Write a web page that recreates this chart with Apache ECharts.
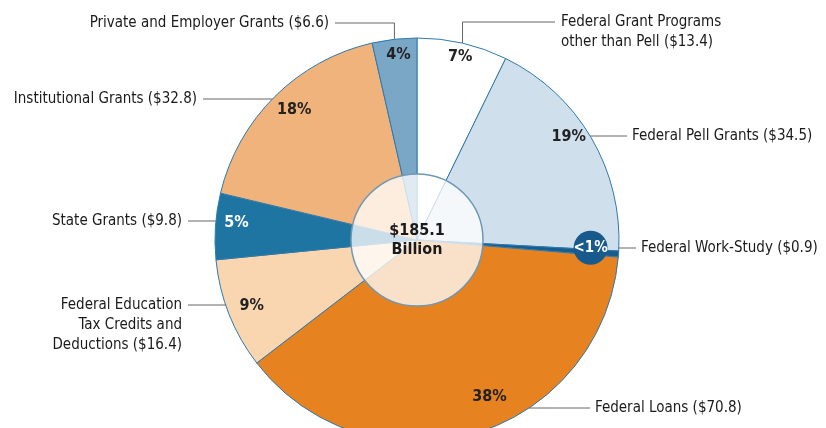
<!DOCTYPE html>
<html><head><meta charset="utf-8">
<script src="https://cdn.jsdelivr.net/npm/echarts@6/dist/echarts.min.js"></script>
<style>html,body{margin:0;padding:0;background:#fff}#c{width:826px;height:428px}</style>
</head><body><div id="c"></div>
<script>
// ---- data ----
const categories = [
  'Federal Grant Programs\nother than Pell',
  'Federal Pell Grants',
  'Federal Work-Study',
  'Federal Loans',
  'Federal Education\nTax Credits and\nDeductions',
  'State Grants',
  'Institutional Grants',
  'Private and Employer Grants'
];
const amounts = [13.4, 34.5, 0.9, 70.8, 16.4, 9.8, 32.8, 6.6];
const percentLabels = ['7%', '19%', '<1%', '38%', '9%', '5%', '18%', '4%'];
const totalLabel = ['$185.1', 'Billion'];

// ---- style ----
const colors = ['#ffffff', '#cfdfec', '#175e8f', '#e6821f', '#f9d5b0', '#1e75a2', '#f0b37b', '#7ba7c7'];
const pctColors = ['#222', '#222', '#fff', '#222', '#222', '#fff', '#222', '#222'];
const pctOffsets = [[2,-5],[-6,-10],[-9,-5],[21,-19],[5,-1],[2,-5],[6,0],[2,-3]];
const FONT = '"DejaVu Sans Condensed", "Liberation Sans Narrow", sans-serif';
const CX = 417, CY = 240, R = 202;
const leaders = [
  {up: 22, endX: 555, textX: 561, align: 'left', top: true},
  {y: 136, endX: 627, textX: 632, align: 'left'},
  {y: 248, endX: 636, textX: 641, align: 'left'},
  {y: 408, endX: 590, textX: 595, align: 'left'},
  {y: 305, endX: 188, textX: 182, align: 'right', top: true},
  {y: 221, endX: 188, textX: 182, align: 'right'},
  {y: 99,  endX: 203, textX: 197, align: 'right'},
  {up: 23, endX: 335, textX: 329, align: 'right'}
];
const LH = 20;

const mainData = categories.map((c, i) => ({
  name: c, value: amounts[i], itemStyle: {color: colors[i]}
}));
const pctData = categories.map((c, i) => {
  const d = {name: c, value: amounts[i], label: {color: pctColors[i]}};
  if (i === 2) {
    Object.assign(d.label, {backgroundColor: '#175a8b', borderRadius: 17, width: 34, height: 34,
      lineHeight: 34, align: 'center', fontSize: 15, overflow: 'none'});
  }
  return d;
});

const chart = echarts.init(document.getElementById('c'), null, {renderer: 'canvas'});
chart.setOption({
  backgroundColor: '#ffffff',
  animation: false,
  series: [
    {
      type: 'pie', z: 2,
      center: [CX, CY], radius: [0, R],
      startAngle: 90, clockwise: true,
      avoidLabelOverlap: false,
      data: mainData,
      itemStyle: {borderColor: '#2f7aad', borderWidth: 1},
      label: {
        show: true, position: 'outside',
        fontFamily: FONT, fontSize: 15, color: '#1a1a1a', lineHeight: LH,
        formatter: p => categories[p.dataIndex] + ' ($' + amounts[p.dataIndex].toFixed(1) + ')'
      },
      labelLine: {show: true, lineStyle: {color: '#666', width: 1}},
      labelLayout: function (p) {
        const L = leaders[p.dataIndex];
        let pts, ly;
        if (L.up != null) {
          const s = p.labelLinePoints[0];
          pts = [[s[0], s[1]], [s[0], L.up], [L.endX, L.up]];
          ly = L.up;
        } else {
          const dy = L.y - CY;
          const dx = Math.sqrt(R * R - dy * dy);
          const sx = L.endX > CX ? CX + dx : CX - dx;
          pts = [[sx, L.y], [(sx + L.endX) / 2, L.y], [L.endX, L.y]];
          ly = L.y;
        }
        return {
          x: L.textX,
          y: L.top ? ly - LH / 2 : ly,
          align: L.align,
          verticalAlign: L.top ? 'top' : 'middle',
          labelLinePoints: pts
        };
      }
    },
    {
      type: 'pie', z: 4, silent: true,
      center: [CX, CY], radius: [0, 66],
      data: [{value: 1, name: 'total'}],
      itemStyle: {color: 'rgba(255,255,255,0.76)', borderColor: '#6f98b6', borderWidth: 1.5},
      label: {
        show: true, position: 'center',
        formatter: totalLabel.join('\n'),
        fontFamily: FONT, fontWeight: 'bold', fontSize: 16, lineHeight: 19, color: '#1a1a1a'
      },
      labelLine: {show: false}
    },
    {
      type: 'pie', z: 6, silent: true,
      center: [CX, CY], radius: [150, 210],
      startAngle: 90, clockwise: true,
      avoidLabelOverlap: false,
      data: pctData,
      itemStyle: {color: 'rgba(0,0,0,0)', borderWidth: 0},
      label: {
        show: true, position: 'inside',
        fontFamily: FONT, fontWeight: 'bold', fontSize: 16,
        formatter: p => percentLabels[p.dataIndex]
      },
      labelLine: {show: false},
      labelLayout: p => ({dx: pctOffsets[p.dataIndex][0], dy: pctOffsets[p.dataIndex][1]})
    }
  ]
});
</script></body></html>
